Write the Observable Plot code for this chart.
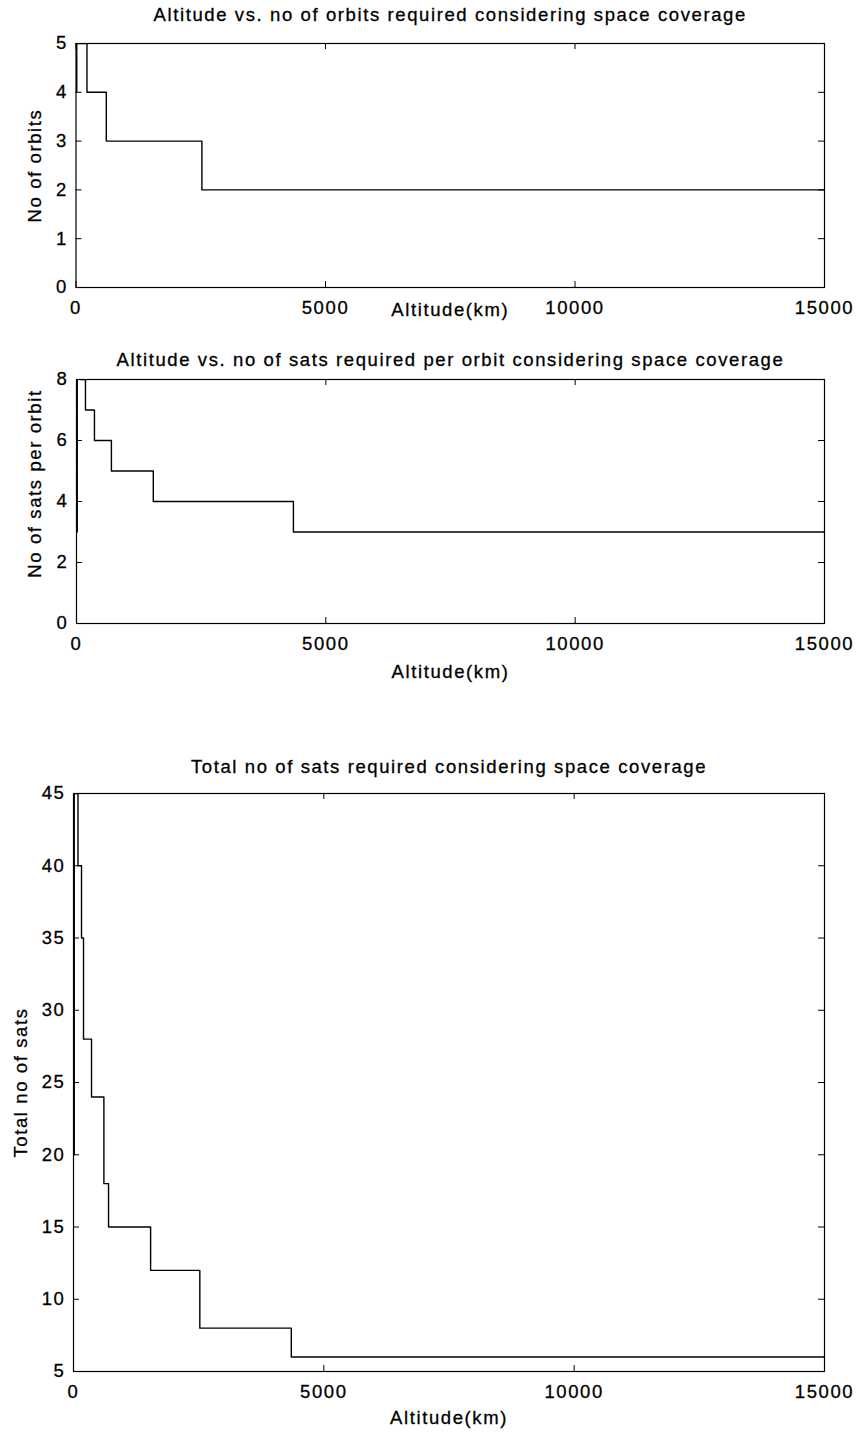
<!DOCTYPE html>
<html><head><meta charset="utf-8">
<script src="https://cdn.jsdelivr.net/npm/d3@7"></script>
<script src="https://cdn.jsdelivr.net/npm/@observablehq/plot@0.6"></script>
<style>
body{margin:0;background:#fff;}
#chart{position:relative;width:859px;height:1433px;background:#fff;}
#chart svg{position:absolute;left:0;overflow:visible;}
#chart svg text{stroke:#000;stroke-width:0.3px;}
</style></head><body><div id="chart"></div>
<script>
// ---- shared ----
const altitudeTicks = [0, 5000, 10000, 15000];
const xLabel = "Altitude(km)";

// ---- panel 1: number of orbits ----
const orbitTitle = "Altitude vs. no of orbits required considering space coverage";
const orbitYLabel = "No of orbits";
const orbitAltitudes = [0, 15, 220, 607, 2523, 15000];
const orbitCounts = [4, 5, 4, 3, 2, 2];
const orbitTicks = [0, 1, 2, 3, 4, 5];

// ---- panel 2: satellites per orbit ----
const satTitle = "Altitude vs. no of sats required per orbit considering space coverage";
const satYLabel = "No of sats per orbit";
const satAltitudes = [0, 15, 90, 180, 360, 700, 1540, 4350, 15000];
const satsPerOrbit = [3, 9, 8, 7, 6, 5, 4, 3, 3];
const satTicks = [0, 2, 4, 6, 8];

// ---- panel 3: total satellites ----
const totalTitle = "Total no of sats required considering space coverage";
const totalYLabel = "Total no of sats";
const totalAltitudes = [0, 15, 90, 160, 200, 360, 607, 700, 1540, 2523, 4350, 15000];
const totalSats = [20, 45, 40, 35, 28, 24, 18, 15, 12, 8, 6, 6];
const totalTicks = [5, 10, 15, 20, 25, 30, 35, 40, 45];

const FONT = "'Liberation Sans', Arial, Helvetica, sans-serif";
const FS = 18.5;
const W = 859;

function panel({top, height, mt, mb, ml, mr, alts, vals, yDomain, yTicks, title, titleDy, yLabel, yLabelDx, yLabelDy, xLabelDy}) {
  const fh = height - mt - mb;
  const fw = W - ml - mr;
  const tl = 6;
  const data = alts.map((a, i) => ({alt: a, v: vals[i]}));
  const svg = Plot.plot({
    width: W, height,
    marginTop: mt, marginBottom: mb, marginLeft: ml, marginRight: mr,
    style: {fontFamily: FONT, fontSize: FS + "px", letterSpacing: "1.6px", color: "black", background: "white", overflow: "visible"},
    x: {domain: [0, 15000], label: null},
    y: {domain: yDomain, label: null},
    marks: [
      Plot.tickX(altitudeTicks, {x: d => d, insetTop: fh - tl, stroke: "black"}),
      Plot.tickX(altitudeTicks, {x: d => d, insetBottom: fh - tl, stroke: "black"}),
      Plot.tickY(yTicks, {y: d => d, insetRight: fw - tl, stroke: "black"}),
      Plot.tickY(yTicks, {y: d => d, insetLeft: fw - tl, stroke: "black"}),
      Plot.axisX(altitudeTicks, {tickSize: 0, tickPadding: 13, tickFormat: d => String(d), fontSize: FS, label: null}),
      Plot.axisY(yTicks, {tickSize: 0, tickPadding: 8, tickFormat: d => String(d), fontSize: FS, label: null}),
      Plot.line(data, {x: "alt", y: "v", curve: "step-after", stroke: "black", strokeWidth: 1.4, clip: true}),
      Plot.frame({stroke: "black", strokeWidth: 1.2}),
      Plot.text([title], {text: d => d, frameAnchor: "top", lineAnchor: "middle", textAnchor: "middle", dy: titleDy, fontSize: FS}),
      Plot.text([xLabel], {text: d => d, frameAnchor: "bottom", lineAnchor: "middle", textAnchor: "middle", dy: xLabelDy, fontSize: FS}),
      Plot.text([yLabel], {text: d => d, frameAnchor: "left", lineAnchor: "middle", textAnchor: "middle", rotate: -90, dx: yLabelDx, dy: yLabelDy, fontSize: FS})
    ]
  });
  svg.style.top = top + "px";
  document.getElementById("chart").appendChild(svg);
}

panel({top: 0, height: 330, mt: 43, mb: 43, ml: 75.5, mr: 35,
  alts: orbitAltitudes, vals: orbitCounts, yDomain: [0, 5], yTicks: orbitTicks,
  title: orbitTitle, titleDy: -28, yLabel: orbitYLabel, yLabelDx: -41, yLabelDy: 0, xLabelDy: 23});

panel({top: 330, height: 360, mt: 49, mb: 67, ml: 76, mr: 35,
  alts: satAltitudes, vals: satsPerOrbit, yDomain: [0, 8], yTicks: satTicks,
  title: satTitle, titleDy: -19, yLabel: satYLabel, yLabelDx: -41, yLabelDy: -18, xLabelDy: 49});

panel({top: 690, height: 743, mt: 103, mb: 62, ml: 73, mr: 35,
  alts: totalAltitudes, vals: totalSats, yDomain: [5, 45], yTicks: totalTicks,
  title: totalTitle, titleDy: -26, yLabel: totalYLabel, yLabelDx: -52, yLabelDy: 0, xLabelDy: 47});
</script>
</body></html>
